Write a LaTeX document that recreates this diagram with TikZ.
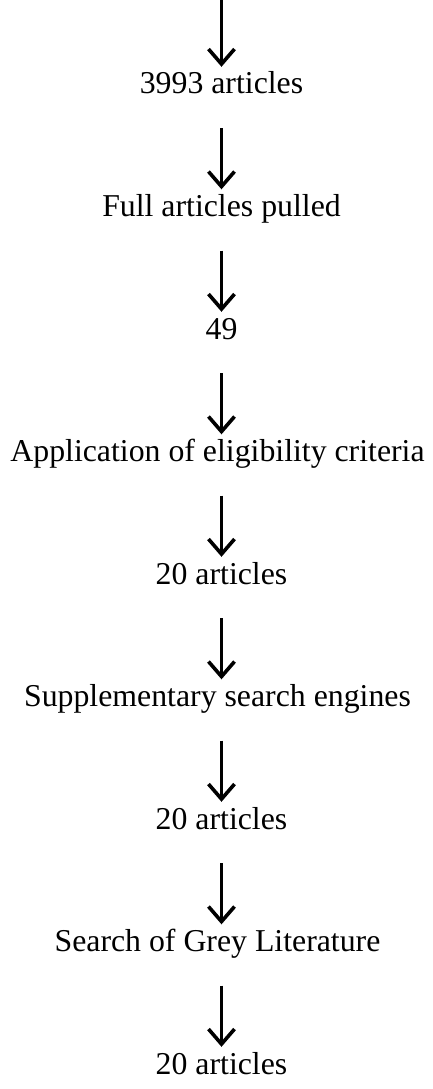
\documentclass[tikz,border=0pt]{standalone}
\usepackage{fontspec}
\setmainfont{Liberation Serif}
\usetikzlibrary{arrows.meta}
\begin{document}
\begin{tikzpicture}[x=1pt,y=-1pt,
  stage/.style={anchor=base,inner xsep=0pt,inner ysep=0pt,text height=27pt,text depth=34pt,font=\fontsize{31.8}{36}\selectfont},
  wide/.style={xshift=-4pt},
  flow/.style={line width=3.6pt,-{Straight Barb[length=15pt,width=26pt]}}]
\useasboundingbox (0,0) rectangle (433,1089);
\def\cx{221.5}
\coordinate (top) at (\cx,0);
\node[stage] (n1) at (\cx,94) {3993 articles};
\node[stage] (n2) at (\cx,216.5) {Full articles pulled};
\node[stage] (n3) at (\cx,339) {49};
\node[stage,wide] (n4) at (\cx,461.5) {Application of eligibility criteria};
\node[stage] (n5) at (\cx,584) {20 articles};
\node[stage,wide] (n6) at (\cx,706.5) {Supplementary search engines};
\node[stage] (n7) at (\cx,829) {20 articles};
\node[stage,wide] (n8) at (\cx,951.5) {Search of Grey Literature};
\node[stage] (n9) at (\cx,1074) {20 articles};
\draw[flow] (top) -- (n1.north -| top);
\draw[flow] (n1.south) -- (n2.north);
\draw[flow] (n2.south) -- (n3.north);
\draw[flow] (n3.south) -- (n4.north -| top);
\draw[flow] (n4.south -| top) -- (n5.north);
\draw[flow] (n5.south) -- (n6.north -| top);
\draw[flow] (n6.south -| top) -- (n7.north);
\draw[flow] (n7.south) -- (n8.north -| top);
\draw[flow] (n8.south -| top) -- (n9.north);
\end{tikzpicture}
\end{document}
